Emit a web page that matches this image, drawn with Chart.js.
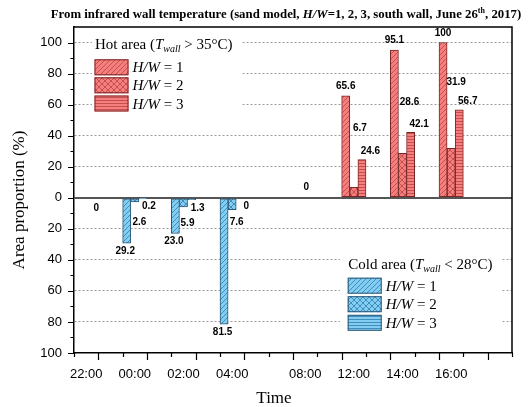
<!DOCTYPE html>
<html>
<head>
<meta charset="utf-8">
<script src="https://cdn.jsdelivr.net/npm/chart.js@4.4.1/dist/chart.umd.min.js"></script>
<style>
  html, body { margin: 0; padding: 0; background: #fff; }
  canvas { display: block; }
</style>
</head>
<body>
<canvas id="areaChart" width="531" height="407"></canvas>
<script>
// x slots: blank slots keep the uneven spacing of the original axis
const slotLabels = ['22:00', '', '00:00', '', '02:00', '', '04:00', '', '', '08:00', '', '12:00', '', '14:00', '', '16:00', '', ''];
const times = ['22:00', '00:00', '02:00', '04:00', '08:00', '12:00', '14:00', '16:00'];

// hot area proportion (%), T_wall > 35 C
const hotHW1 = [null, null, null, null, null, 65.6, 95.1, 100];
const hotHW2 = [null, null, null, null, 0, 6.7, 28.6, 31.9];
const hotHW3 = [null, null, null, null, null, 24.6, 42.1, 56.7];

// cold area proportion (%), T_wall < 28 C, drawn downwards
const coldHW1 = [null, 29.2, 23.0, 81.5, null, null, null, null];
const coldHW2 = [0, 2.6, 5.9, 7.6, null, null, null, null];
const coldHW3 = [null, 0.2, 1.3, 0, null, null, null, null];

const SANS = "'Liberation Sans', Arial, sans-serif";
const SERIF = "'Liberation Serif', 'Times New Roman', serif";

const hot = { fill: '#f47f7f', line: '#c44848', edge: '#7a2626' };
const cold = { fill: '#82cdf2', line: '#3a86b4', edge: '#2d5674' };

function makePattern(kind, c) {
  const s = kind === 'diag' ? 5 : kind === 'cross' ? 6 : 3;
  const cv = document.createElement('canvas');
  cv.width = s;
  cv.height = s;
  const g = cv.getContext('2d');
  g.fillStyle = c.fill;
  g.fillRect(0, 0, s, s);
  g.strokeStyle = c.line;
  g.lineWidth = 0.9;
  g.beginPath();
  if (kind === 'horiz') {
    g.moveTo(0, 1.5);
    g.lineTo(s, 1.5);
  } else {
    for (const o of [-s, 0, s]) {
      g.moveTo(o, s);
      g.lineTo(o + s, 0);
      if (kind === 'cross') {
        g.moveTo(o, 0);
        g.lineTo(o + s, s);
      }
    }
  }
  g.stroke();
  return g.createPattern(cv, 'repeat');
}

const ctx = document.getElementById('areaChart').getContext('2d');
const pat = {
  hot: { diag: makePattern('diag', hot), cross: makePattern('cross', hot), horiz: makePattern('horiz', hot) },
  cold: { diag: makePattern('diag', cold), cross: makePattern('cross', cold), horiz: makePattern('horiz', cold) }
};

// label nudges (px) relative to each bar tip; nudgeAt overrides single points
function series(values, sign, stack, side, kind, nudge, nudgeAt) {
  const c = side === 'hot' ? hot : cold;
  return {
    data: times.map((t, i) => ({ x: t, y: values[i] === null ? null : sign * values[i] })),
    raw: values,
    stack: stack,
    backgroundColor: pat[side][kind],
    borderColor: c.edge,
    borderWidth: 1,
    borderSkipped: false,
    nudge: nudge,
    nudgeAt: nudgeAt || {}
  };
}

const datasets = [
  series(hotHW1, 1, 'hw1', 'hot', 'diag', [0, -9.5]),
  series(hotHW2, 1, 'hw2', 'hot', 'cross', [6, -55], { 4: [1, -11], 5: [6, -59], 6: [7, -51], 7: [5, -66] }),
  series(hotHW3, 1, 'hw3', 'hot', 'horiz', [8.5, -8.5]),
  series(coldHW1, -1, 'hw1', 'cold', 'diag', [-1.5, 8]),
  series(coldHW2, -1, 'hw2', 'cold', 'cross', [4.5, 16], { 0: [10, 10], 1: [4.5, 20], 2: [4, 16], 3: [4.5, 12.5] }),
  series(coldHW3, -1, 'hw3', 'cold', 'horiz', [6, 8])
];

function fmt(v) {
  return (v === 0 || v === 100) ? String(v) : v.toFixed(1);
}

function drawRuns(g, runs, x, y, align) {
  let w = 0;
  runs.forEach(r => { g.font = r.font; r.w = g.measureText(r.text).width; w += r.w; });
  let cx = align === 'center' ? x - w / 2 : x;
  g.textAlign = 'left';
  g.textBaseline = 'alphabetic';
  runs.forEach(r => { g.font = r.font; g.fillText(r.text, cx, y + (r.dy || 0)); cx += r.w; });
}

function drawLegend(g, box, heading, sign, side, sw) {
  const c = side === 'hot' ? hot : cold;
  g.fillStyle = '#fff';
  g.fillRect(box.x, box.y, box.w, box.h);
  g.fillStyle = '#000';
  drawRuns(g, [
    { text: heading + ' (', font: `15px ${SERIF}` },
    { text: 'T', font: `italic 15px ${SERIF}` },
    { text: 'wall', font: `italic 10px ${SERIF}`, dy: 3.5 },
    { text: sign, font: `15px ${SERIF}` }
  ], sw.hx, sw.hy, 'left');
  ['diag', 'cross', 'horiz'].forEach((k, i) => {
    const top = sw.tops[i];
    g.fillStyle = pat[side][k];
    g.fillRect(sw.x, top, 34, 16);
    g.strokeStyle = c.edge;
    g.lineWidth = 1;
    g.strokeRect(sw.x + 0.5, top + 0.5, 33, 15);
    g.fillStyle = '#000';
    drawRuns(g, [
      { text: 'H/W', font: `italic 15px ${SERIF}` },
      { text: ' = ' + (i + 1), font: `15px ${SERIF}` }
    ], sw.x + 38, top + 13, 'left');
  });
}

const decor = {
  id: 'decor',
  afterDraw(chart) {
    const g = chart.ctx;
    const a = chart.chartArea;
    const x = chart.scales.x;
    const y = chart.scales.y;
    g.save();

    // frame top and right
    g.strokeStyle = '#000';
    g.lineWidth = 1.5;
    g.beginPath();
    g.moveTo(a.left, a.top);
    g.lineTo(a.right, a.top);
    g.lineTo(a.right, a.bottom);
    g.stroke();

    // y tick marks, major every 20, minor every 10
    g.lineWidth = 1.2;
    g.beginPath();
    y.ticks.forEach(t => {
      if (Math.abs(t.value) > 100) return;
      const py = Math.round(y.getPixelForValue(t.value)) + 0.5;
      const len = Math.round(t.value) % 20 === 0 ? 6 : 3.5;
      g.moveTo(a.left - len, py);
      g.lineTo(a.left, py);
    });
    // x tick marks at slot boundaries
    const n = slotLabels.length;
    for (let i = 0; i <= n; i++) {
      let px;
      if (i === 0) px = a.left;
      else if (i === n) px = a.right;
      else px = (x.getPixelForValue(i - 1) + x.getPixelForValue(i)) / 2;
      px = Math.round(px) + 0.5;
      const len = i % 2 === 1 ? 7 : 4;
      g.moveTo(px, a.bottom);
      g.lineTo(px, a.bottom + len);
    }
    g.stroke();

    // value labels
    g.fillStyle = '#000';
    g.font = `bold 10px ${SANS}`;
    g.textAlign = 'center';
    g.textBaseline = 'middle';
    chart.data.datasets.forEach((ds, di) => {
      const meta = chart.getDatasetMeta(di);
      ds.raw.forEach((v, i) => {
        if (v === null) return;
        const el = meta.data[i];
        const off = ds.nudgeAt[i] || ds.nudge;
        g.fillText(fmt(v), el.x + off[0], el.y + off[1]);
      });
    });

    // legends
    drawLegend(g, { x: 92, y: 32, w: 150, h: 84 }, 'Hot area', ' > 35\u00b0C)', 'hot',
      { hx: 95, hy: 48.5, x: 94.5, tops: [59.3, 77.3, 95.5] });
    drawLegend(g, { x: 340, y: 250, w: 162, h: 86 }, 'Cold area', ' < 28\u00b0C)', 'cold',
      { hx: 348.3, hy: 268.5, x: 347.7, tops: [277.7, 296.2, 314.8] });

    // axis titles
    g.fillStyle = '#000';
    g.font = `17px ${SERIF}`;
    g.textAlign = 'center';
    g.textBaseline = 'middle';
    g.fillText('Time', 274, 399);
    g.save();
    g.translate(20, 200);
    g.rotate(-Math.PI / 2);
    g.fillText('Area proportion (%)', 0, 0);
    g.restore();

    // chart title
    drawRuns(g, [
      { text: 'From infrared wall temperature (sand model, ', font: `bold 12.8px ${SERIF}` },
      { text: 'H/W', font: `bold italic 12.8px ${SERIF}` },
      { text: '=1, 2, 3, south wall, June 26', font: `bold 12.8px ${SERIF}` },
      { text: 'th', font: `bold 8px ${SERIF}`, dy: -5 },
      { text: ', 2017)', font: `bold 12.8px ${SERIF}` }
    ], 286, 18, 'center');

    g.restore();
  }
};

new Chart(ctx, {
  type: 'bar',
  data: { datasets: datasets },
  options: {
    responsive: false,
    animation: false,
    devicePixelRatio: 1,
    layout: { padding: { top: 27, right: 19, left: 0, bottom: 0 } },
    datasets: { bar: { categoryPercentage: 1, barPercentage: 1 } },
    plugins: {
      legend: { display: false },
      tooltip: { enabled: false },
      title: { display: false }
    },
    scales: {
      x: {
        type: 'category',
        labels: slotLabels,
        stacked: true,
        offset: true,
        grid: { drawOnChartArea: false, drawTicks: false },
        border: { display: true, color: '#000', width: 1.5 },
        ticks: {
          autoSkip: false,
          maxRotation: 0,
          padding: 14,
          color: '#000',
          font: { family: SANS, size: 13 }
        },
        afterFit: s => { s.height = 54; }
      },
      y: {
        min: -100,
        max: 110,
        stacked: true,
        grid: {
          drawTicks: false,
          color: c => {
            const v = Math.round(c.tick.value);
            if (v === 0) return '#555';
            return (v % 20 === 0 && Math.abs(v) < 100) || v === 100 ? '#9a9a9a' : 'rgba(0,0,0,0)';
          },
          lineWidth: c => (Math.round(c.tick.value) === 0 ? 2 : 1)
        },
        border: {
          display: true,
          color: '#000',
          width: 1.5,
          dash: c => (c.tick && Math.round(c.tick.value) === 0 ? [] : [2, 2])
        },
        ticks: {
          stepSize: 10,
          autoSkip: false,
          padding: 12,
          color: '#000',
          font: { family: SANS, size: 13 },
          callback: v => {
            const r = Math.round(v);
            return (r % 20 === 0 && Math.abs(r) <= 100) ? String(Math.abs(r)) : '';
          }
        },
        afterFit: s => { s.width = 74; }
      }
    }
  },
  plugins: [decor]
});
</script>
</body>
</html>
